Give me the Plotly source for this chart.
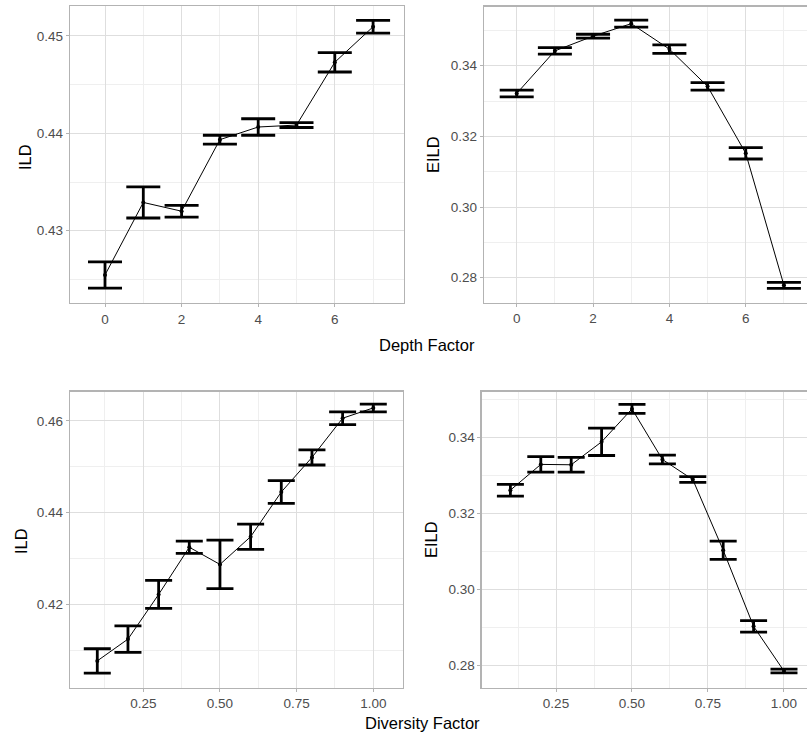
import plotly.graph_objects as go

# ---- data ----
depth_x = [0, 1, 2, 3, 4, 5, 6, 7]
depth_ild = [0.42545, 0.4329, 0.4320, 0.43935, 0.44065, 0.44085, 0.4473, 0.45095]
depth_ild_err = [0.00135, 0.0016, 0.0006, 0.00045, 0.00085, 0.00025, 0.0010, 0.00065]
depth_eild = [0.33215, 0.3442, 0.34835, 0.3519, 0.3447, 0.33415, 0.3152, 0.27785]
depth_eild_err = [0.00095, 0.0009, 0.00055, 0.0010, 0.0012, 0.00105, 0.0016, 0.00085]

div_x = [0.1, 0.2, 0.3, 0.4, 0.5, 0.6, 0.7, 0.8, 0.9, 1.0]
div_ild = [0.40765, 0.4124, 0.42215, 0.43245, 0.4287, 0.43475, 0.4445, 0.45205, 0.4606, 0.46285]
div_ild_err = [0.00265, 0.0029, 0.00305, 0.00135, 0.0053, 0.00275, 0.0025, 0.00165, 0.0014, 0.00085]
div_eild = [0.32615, 0.33295, 0.33285, 0.3389, 0.3476, 0.33425, 0.32895, 0.3103, 0.2902, 0.2784]
div_eild_err = [0.00155, 0.00205, 0.00195, 0.0036, 0.0012, 0.00115, 0.00075, 0.0024, 0.0015, 0.0005]

depth_ticks = [0, 2, 4, 6]
div_ticks = [0.25, 0.50, 0.75, 1.00]
ild_top_ticks = [0.43, 0.44, 0.45]
eild_top_ticks = [0.28, 0.30, 0.32, 0.34]
ild_bot_ticks = [0.42, 0.44, 0.46]
eild_bot_ticks = [0.28, 0.30, 0.32, 0.34]

W, H = 807, 736
FONT = "Liberation Sans, Arial, sans-serif"
TICKC = "#4D4D4D"
GRID = "#DEDEDE"
MINOR = "#EFEFEF"
BORDER = "#B3B3B3"

def xd(a, b):
    return [a / W, min(b / W, 1.0)]

def yd(top, bottom):
    return [1 - bottom / H, 1 - top / H]

fig = go.Figure()

panels = [
    ("x", "y", depth_x, depth_ild, depth_ild_err, 17),
    ("x2", "y2", depth_x, depth_eild, depth_eild_err, 17),
    ("x3", "y3", div_x, div_ild, div_ild_err, 13.5),
    ("x4", "y4", div_x, div_eild, div_eild_err, 13.5),
]
for xa, ya, xs, ys, es, w in panels:
    fig.add_trace(go.Scatter(
        x=xs, y=ys, xaxis=xa, yaxis=ya, mode="lines+markers",
        line=dict(color="black", width=1),
        marker=dict(color="black", size=4),
        error_y=dict(type="data", array=es, visible=True, color="black",
                     thickness=2.8, width=w),
        showlegend=False, hoverinfo="skip"))

def minor(vals):
    return dict(showgrid=True, gridcolor=MINOR, gridwidth=1, tickvals=vals)

def axis(domain, rng, ticks, fmt, anchor, minor_vals, mirror=True):
    return dict(domain=domain, range=rng, tickvals=ticks, tickformat=fmt,
                showgrid=True, gridcolor=GRID, gridwidth=1,
                minor=minor(minor_vals),
                showline=True, linecolor=BORDER, linewidth=1.3, mirror=mirror,
                ticks="outside", ticklen=3, tickcolor=BORDER, tickwidth=1,
                tickfont=dict(family=FONT, size=13.5, color=TICKC),
                zeroline=False, anchor=anchor, fixedrange=True)

lay = {}
lay["xaxis"] = axis(xd(70, 404), [-0.914, 7.807], depth_ticks, "d", "y", [1, 3, 5, 7])
lay["yaxis"] = axis(yd(6, 303), [0.42257, 0.45308], ild_top_ticks, ".2f", "x", [0.425, 0.435, 0.445])
lay["xaxis2"] = axis(xd(484, 807), [-0.857, 7.605], depth_ticks, "d", "y2", [1, 3, 5, 7])
lay["yaxis2"] = axis(yd(6.7, 302.7), [0.27292, 0.3567], eild_top_ticks, ".2f", "x2",
                     [0.29, 0.31, 0.33, 0.35], mirror=False)
lay["xaxis3"] = axis(xd(70, 402.7), [0.0110, 1.0959], div_ticks, ".2f", "y3", [0.125, 0.375, 0.625, 0.875])
lay["yaxis3"] = axis(yd(391.7, 687.7), [0.40180, 0.46639], ild_bot_ticks, ".2f", "x3", [0.41, 0.43, 0.45])
lay["xaxis4"] = axis(xd(481.7, 807), [0.00559, 1.0757], div_ticks, ".2f", "y4", [0.125, 0.375, 0.625, 0.875])
lay["yaxis4"] = axis(yd(391.7, 687.7), [0.27401, 0.35214], eild_bot_ticks, ".2f", "x4",
                     [0.29, 0.31, 0.33, 0.35], mirror=False)

fig.update_layout(**lay)

TF = dict(family=FONT, size=16.5, color="black")
def ann(text, px, py, angle=0):
    return dict(text=text, x=px / W, y=1 - py / H, xref="paper", yref="paper",
                xanchor="center", yanchor="middle", showarrow=False,
                textangle=angle, font=TF)

fig.update_layout(
    width=W, height=H, margin=dict(l=0, r=0, t=0, b=0),
    paper_bgcolor="white", plot_bgcolor="white",
    annotations=[
        ann("Depth Factor", 427, 345),
        ann("Diversity Factor", 422, 723),
        ann("ILD", 25, 157, -90),
        ann("EILD", 433, 155, -90),
        ann("ILD", 21, 541, -90),
        ann("EILD", 431, 540, -90),
    ],
)

fig.write_html("out.html", config={"displayModeBar": False, "staticPlot": True})

# remove default browser body margin so the figure sits at the page origin
with open("out.html", "r", encoding="utf-8") as f:
    html = f.read()
html = html.replace("<head>", "<head><style>html,body{margin:0;padding:0;overflow:hidden;}</style>", 1)
with open("out.html", "w", encoding="utf-8") as f:
    f.write(html)
